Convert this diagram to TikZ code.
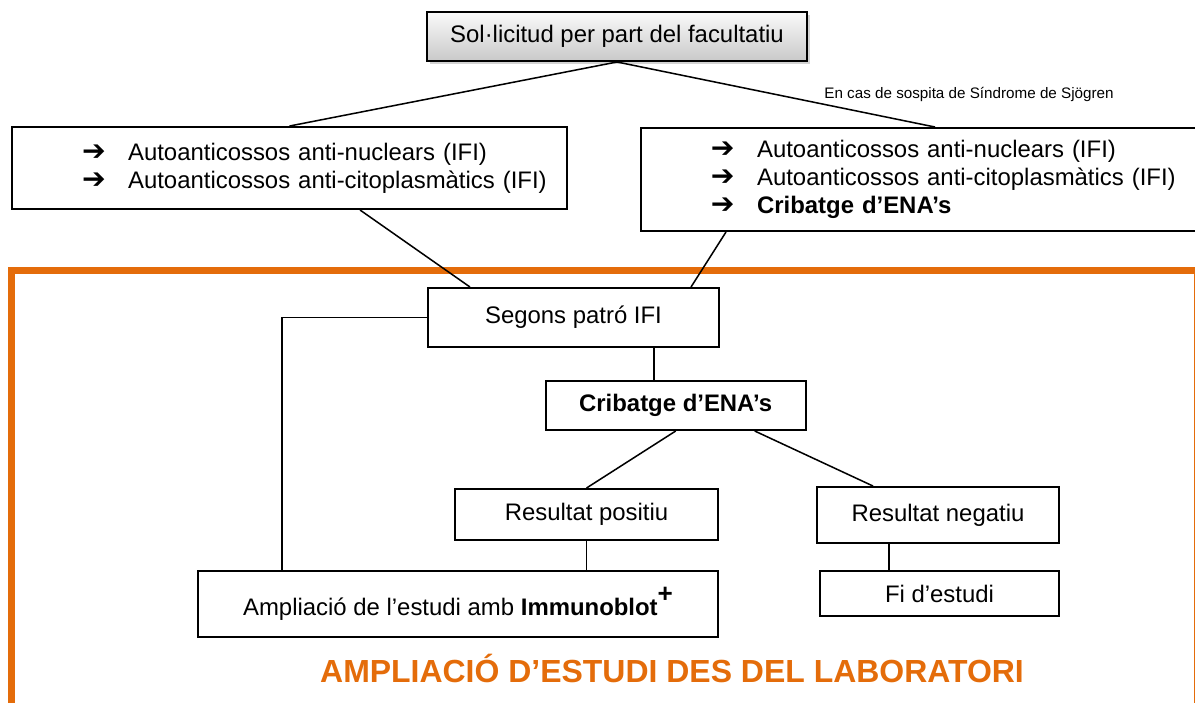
\documentclass[tikz,border=0pt]{standalone}
\usepackage{fontspec}
\setmainfont{Liberation Sans}
\newfontfamily\symfont{DejaVu Sans}
\usetikzlibrary{calc,shadows}
\definecolor{labor}{RGB}{228,108,10}
\tikzset{
  box/.style 2 args={draw, line width=0.9pt, inner sep=0pt,
    minimum width=#1*0.46pt, minimum height=#2*0.46pt,
    font=\fontsize{11}{12.8}\selectfont},
  link/.style={line width=0.7pt},
}
% arrow bullet of the request lists
\newcommand\fletxa{\hspace*{32.2pt}\makebox[21.2pt][l]{\symfont\bfseries\fontsize{13}{12}\selectfont ➔}}

\begin{document}
\begin{tikzpicture}[x=0.46pt, y=-0.46pt]
  \useasboundingbox (0,0) rectangle (1195,702);
  % laboratori frame, open at the bottom
  \draw[labor, line width=3.2pt] (11.5,720) -- (11.5,270.5) -- (1197.5,270.5) -- (1197.5,720);
  % request
  \node[box={380}{49}, top color=gray!4, bottom color=gray!42,
    drop shadow={shadow xshift=1.2pt, shadow yshift=-1.2pt, opacity=0.35}] (sol) at (617,36.5)
    {Sol·licitud per part del facultatiu};
  \node[box={555}{82}, text width=255.3pt, align=left] (nuc) at (289.5,168)
    {\fletxa Autoanticossos anti-nuclears (IFI)\\
     \fletxa Autoanticossos anti-citoplasmàtics (IFI)};
  \node[box={588}{103}, text width=270.5pt, align=left] (sjo) at (935,179.5)
    {\fletxa Autoanticossos anti-nuclears (IFI)\\
     \fletxa Autoanticossos anti-citoplasmàtics (IFI)\\
     \fletxa \textbf{Cribatge d’ENA’s}};
  \node[font=\fontsize{7}{8}\selectfont, anchor=base] (sos) at (969,98)
    {En cas de sospita de Síndrome de Sjögren};
  % inside the laboratory
  \node[box={291}{59}] (seg) at (573.5,317.5) {Segons patró IFI};
  \node[box={260}{49}, font=\fontsize{11}{12.8}\selectfont\bfseries] (crib) at (675.7,405.5) {Cribatge d’ENA’s};
  \node[box={263}{51}] (pos) at (586.5,514.5) {Resultat positiu};
  \node[box={242}{56}] (neg) at (938,515) {Resultat negatiu};
  \node[box={520}{66}] (amp) at (458,604)
    {Ampliació de l’estudi amb \textbf{Immunoblot}\raisebox{6pt}{\textbf{\fontsize{12}{12}\selectfont +}}};
  \node[box={239}{45}] (fi) at (939.5,593.5) {Fi d’estudi};
  \node[labor, font=\fontsize{14.7}{16}\selectfont\bfseries, anchor=base] (tit) at (672,682)
    {AMPLIACIÓ D’ESTUDI DES DEL LABORATORI};

  % connectors
  \coordinate (sc) at ($(seg.south)+(80.5,0)$);
  \coordinate (nc) at ($(neg.south)+(-49,0)$);
  \draw[link] (sol.south) -- (nuc.north);
  \draw[link] (sol.south) -- (sjo.north);
  \draw[link] ($(nuc.south)+(70.5,0)$) -- ($(seg.north)+(-103.5,0)$);
  \draw[link] ($(sjo.south)+(-209,0)$) -- ($(seg.north)+(117.5,0)$);
  \draw[link] (seg.west) -| ($(amp.north)+(-176,0)$);
  \draw[link] (sc) -- (sc |- crib.north);
  \draw[link] (crib.south) -- (pos.north);
  \draw[link] ($(crib.south)+(79,0)$) -- ($(neg.north)+(-65,0)$);
  \draw[link] (pos.south) -- (pos.south |- amp.north);
  \draw[link] (nc) -- (nc |- fi.north);
\end{tikzpicture}
\end{document}
